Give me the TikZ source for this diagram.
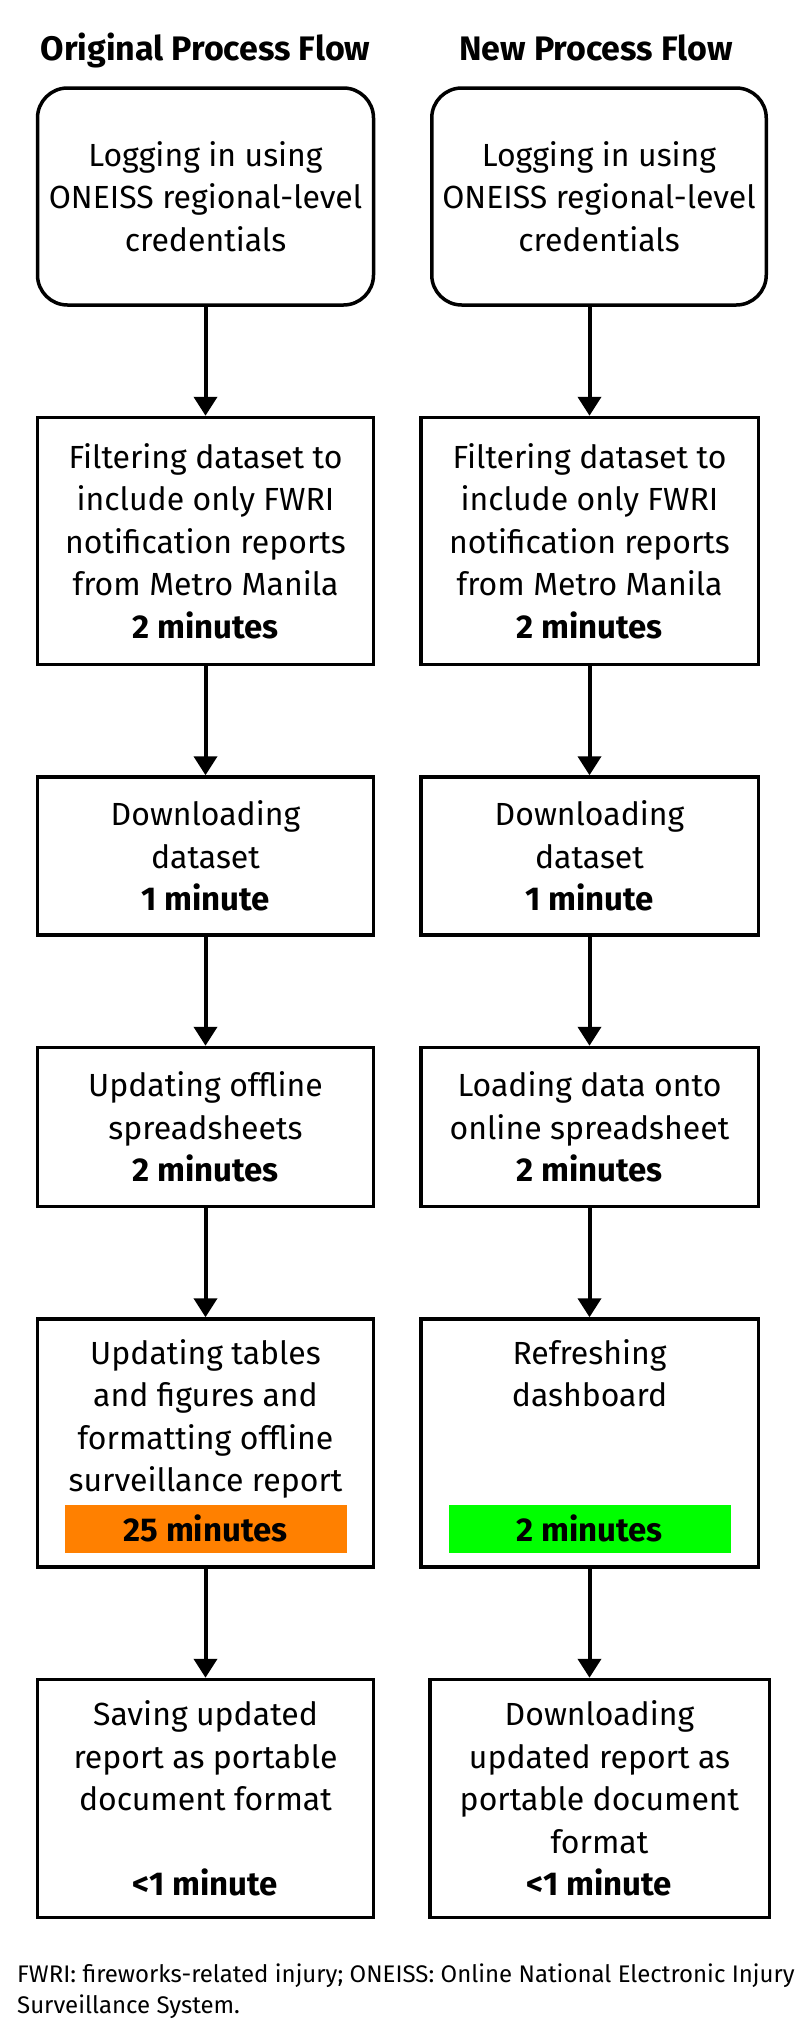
\documentclass[tikz,border=0pt]{standalone}
\usepackage{fontspec}
\setmainfont{Fira Sans}
\usetikzlibrary{arrows.meta,positioning}
\definecolor{slowbar}{HTML}{FF8000}
\definecolor{fastbar}{HTML}{00FF00}
\newcommand{\dur}[1]{{\fontsize{33}{42.5}\selectfont\bfseries #1}}

\begin{document}
\begin{tikzpicture}[x=1pt, y=-1pt, node distance=109pt, every node/.style={font=\fontsize{32}{42.5}\selectfont}]
\tikzset{stepbox/.style={draw, line width=3.5pt, align=center, inner sep=0pt, minimum width=336pt}}
\tikzset{startbox/.style={stepbox, rounded corners=30pt}}
\tikzset{ttl/.style={font=\fontsize{34}{40}\selectfont\bfseries, inner sep=0pt, text depth=8pt}}
\tikzset{tbar/.style={font=\fontsize{33}{42.5}\selectfont\bfseries, minimum width=282pt, minimum height=48pt, inner sep=0pt}}
\tikzset{flow/.style={line width=4pt, -{Triangle[width=23pt, length=19pt]}}}
\tikzset{note/.style={font=\fontsize{24}{31}\selectfont, align=left, inner sep=0pt}}
\useasboundingbox (0,0) rectangle (802,2032);
% original flow
\node[startbox, minimum height=217pt] (o1) at (205.5,196.5) {Logging in using\\ONEISS regional-level\\credentials};
\node[ttl, above=18pt of o1] (ot) {Original Process Flow};
\node[stepbox, minimum height=247pt, below=of o1] (o2) {Filtering dataset to\\include only FWRI\\notification reports\\from Metro Manila\\\dur{2 minutes}};
\node[stepbox, minimum height=158pt, below=of o2] (o3) {Downloading\\dataset\\\dur{1 minute}};
\node[stepbox, minimum height=159pt, below=of o3] (o4) {Updating offline\\spreadsheets\\\dur{2 minutes}};
\node[stepbox, minimum height=248pt, below=of o4] (o5) {Updating tables\\and figures and\\formatting offline\\surveillance report\\\strut};
\node[tbar, fill=slowbar, above=16pt of o5.south] (o5t) {25 minutes};
\node[stepbox, minimum height=238pt, below=of o5] (o6) {Saving updated\\report as portable\\document format\\\strut\\\dur{<1 minute}};
% new flow
\node[startbox, minimum width=334.5pt, minimum height=217pt] (r1) at (599,196.5) {Logging in using\\ONEISS regional-level\\credentials};
\node[ttl, above=18pt of r1, xshift=-3pt] (rt) {New Process Flow};
\node[stepbox, minimum width=337.5pt, minimum height=247pt, below=of r1, xshift=-9.5pt] (r2) {Filtering dataset to\\include only FWRI\\notification reports\\from Metro Manila\\\dur{2 minutes}};
\node[stepbox, minimum width=337.5pt, minimum height=158pt, below=of r2] (r3) {Downloading\\dataset\\\dur{1 minute}};
\node[stepbox, minimum width=337.5pt, minimum height=159pt, below=of r3] (r4) {Loading data onto\\online spreadsheet\\\dur{2 minutes}};
\node[stepbox, minimum width=337.5pt, minimum height=248pt, below=of r4] (r5) {Refreshing\\dashboard\\\strut\\\strut\\\strut};
\node[tbar, fill=fastbar, above=16pt of r5.south] (r5t) {2 minutes};
\node[stepbox, minimum width=339.5pt, minimum height=238pt, below=of r5, xshift=10pt] (r6) {Downloading\\updated report as\\portable document\\format\\\dur{<1 minute}};
% arrows
\draw[flow] (o1) -- (o2);
\draw[flow] (o2) -- (o3);
\draw[flow] (o3) -- (o4);
\draw[flow] (o4) -- (o5);
\draw[flow] (o5) -- (o6);
\draw[flow] (r1.south -| r2) -- (r2);
\draw[flow] (r2) -- (r3);
\draw[flow] (r3) -- (r4);
\draw[flow] (r4) -- (r5);
\draw[flow] (r5) -- (r6.north -| r5);
\node[note, anchor=north west] (fn) at (17,1964) {FWRI: fireworks-related injury; ONEISS: Online National Electronic Injury\\Surveillance System.};
\end{tikzpicture}
\end{document}
